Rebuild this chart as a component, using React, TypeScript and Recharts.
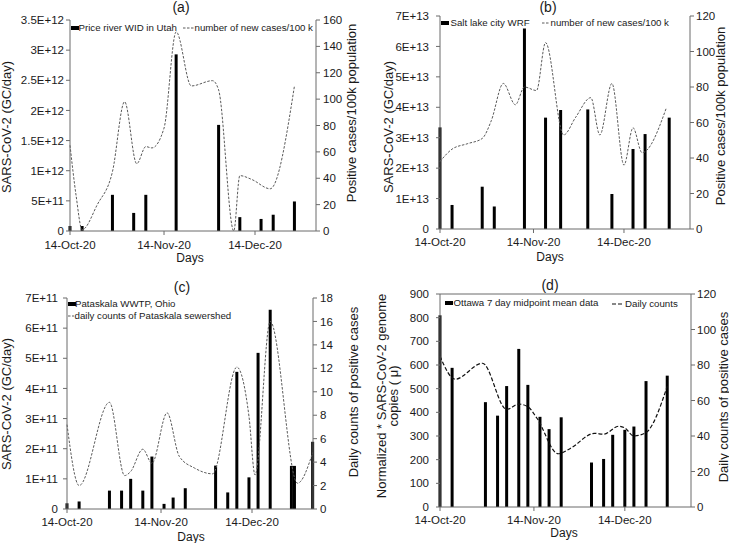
/**
 * Four-panel wastewater SARS-CoV-2 load vs. case counts (a)–(d)
 */

import React from "react";
import { ComposedChart, Bar, Line, XAxis, YAxis, Legend, ReferenceLine } from "recharts";

const FONT = '"Liberation Sans", Arial, Helvetica, sans-serif';
const AXIS = "#6b6b6b";
const INK = "#1a1a1a";

// x values are days after 14-Oct-20
const dateTicks = [0, 31, 61];
const dateLabels = ["14-Oct-20", "14-Nov-20", "14-Dec-20"];

// (a) Price river WID in Utah
const loadDaysA = [0, 4, 14, 21, 25, 35, 49, 56, 63, 67, 74];
const loadA = [8.3e10, 8.3e10, 6.0e11, 3.0e11, 6.0e11, 2.93e12, 1.76e12, 2.3e11, 2.0e11, 2.7e11, 4.9e11];
const caseDaysA = [0, 2, 4, 9, 14, 18, 22, 25, 27, 31, 35, 40, 47, 49, 54, 56, 60, 66, 74];
const casesA = [65, 27, 1, 20, 45, 98, 51, 64, 63, 78, 151, 110, 114, 107, 0, 42, 39, 32, 110];
const leftTicksA = [0, 5e11, 1e12, 1.5e12, 2e12, 2.5e12, 3e12, 3.5e12];
const rightTicksA = [0, 20, 40, 60, 80, 100, 120, 140, 160];

// (b) Salt lake city WRF
const loadDaysB = [0, 4, 14, 18, 28, 35, 40, 49, 57, 64, 68, 76];
const loadB = [3.34e13, 0.79e13, 1.39e13, 0.74e13, 6.59e13, 3.66e13, 3.91e13, 3.93e13, 1.15e13, 2.63e13, 3.12e13, 3.66e13];
const caseDaysB = [0, 4, 9, 14, 17, 21, 25, 28, 32, 35, 41, 45, 50, 53, 57, 61, 64, 67, 75];
const casesB = [38, 45, 48, 51, 61, 82, 70, 80, 78, 105, 53, 63, 74, 53, 82, 36, 57, 43, 68];
const leftTicksB = [0, 1e13, 2e13, 3e13, 4e13, 5e13, 6e13, 7e13];
const rightTicksB = [0, 20, 40, 60, 80, 100, 120];

// (c) Pataskala WWTP, Ohio
const loadDaysC = [0, 4, 14, 18, 21, 25, 28, 32, 35, 39, 49, 53, 56, 60, 63, 67, 74, 75, 81];
const loadC = [1.9e10, 2.5e10, 6.1e10, 6.1e10, 1.0e11, 6.1e10, 1.74e11, 1.7e10, 3.8e10, 6.9e10, 1.44e11, 5.5e10, 4.55e11, 1.05e11, 5.18e11, 6.61e11, 1.43e11, 1.43e11, 2.23e11];
const caseDaysC = [0, 4, 14, 19, 21, 25, 28, 33, 37, 42, 48, 56, 60, 62, 67, 76, 81];
const casesC = [7.2, 2.0, 9.1, 2.85, 3.2, 5.1, 3.9, 8.2, 4.5, 3.5, 3.0, 12.1, 7.9, 2.9, 16, 2.2, 4.8];
const leftTicksC = [0, 1e11, 2e11, 3e11, 4e11, 5e11, 6e11, 7e11];
const rightTicksC = [0, 2, 4, 6, 8, 10, 12, 14, 16, 18];

// (d) Ottawa 7 day midpoint mean
const loadDaysD = [0, 4, 15, 19, 22, 26, 29, 33, 36, 40, 50, 54, 57, 61, 64, 68, 75];
const loadD = [810, 588, 443, 386, 511, 668, 516, 381, 329, 379, 188, 203, 305, 326, 340, 532, 555];
const caseDaysD = [0, 5, 14, 22, 26, 29, 32, 39, 43, 51, 54, 59, 61, 64, 68, 75];
const casesD = [85, 72, 81, 55, 58, 56.5, 50, 30, 33, 41.5, 41, 45.5, 44.5, 40, 42, 68];
const leftTicksD = [0, 100, 200, 300, 400, 500, 600, 700, 800, 900];
const rightTicksD = [0, 20, 40, 60, 80, 100, 120];

type Row = { day: number; load?: number; cases?: number };

function buildRows(loadDays: number[], load: number[], caseDays: number[], cases: number[]): Row[] {
  const map = new Map<number, Row>();
  loadDays.forEach((d, i) => {
    const r = map.get(d) ?? { day: d };
    r.load = load[i];
    map.set(d, r);
  });
  caseDays.forEach((d, i) => {
    const r = map.get(d) ?? { day: d };
    r.cases = cases[i];
    map.set(d, r);
  });
  return [...map.values()].sort((a, b) => a.day - b.day);
}

const sci = (v: number) => (v === 0 ? "0" : v.toExponential().replace("e", "E"));
const plain = (v: number) => String(v);
const fmtDate = (v: number) => dateLabels[dateTicks.indexOf(v)] ?? "";

type LegendItem = { kind: "bar" | "line"; label: string; mx: number; tx: number; y: number };
type Dash = { stroke: string; width: number; dash: string };

type PanelProps = {
  box: { left: number; top: number; width: number; height: number };
  plot: { x0: number; y0: number; x1: number; y1: number };
  rows: Row[];
  pxPerDay: number;
  leftTicks: number[];
  rightTicks: number[];
  leftFmt: (v: number) => string;
  leftMargin: number;
  rightMargin: number;
  xMargin: number;
  line: Dash;
  legend: LegendItem[];
  topBorder?: boolean;
};

function Panel({ box, plot, rows, pxPerDay, leftTicks, rightTicks, leftFmt, leftMargin, rightMargin, xMargin, line, legend, topBorder }: PanelProps) {
  const tick = { fontSize: 11.5, fontFamily: FONT, fill: INK };
  const xMax = (plot.x1 - plot.x0) / pxPerDay;
  const renderLegend = () => (
    <div style={{ position: "relative", width: 0, height: 0 }}>
      {legend.map((it) => (
        <React.Fragment key={it.label}>
          {it.kind === "bar" ? (
            <div style={{ position: "absolute", left: it.mx - box.left, top: it.y - box.top - 2, width: 8, height: 4, background: "#000" }} />
          ) : (
            <svg style={{ position: "absolute", left: it.mx - box.left, top: it.y - box.top - 2 }} width={it.tx - it.mx - 1} height={4}>
              <line x1={0} y1={2} x2={it.tx - it.mx - 1} y2={2} stroke={line.stroke} strokeWidth={line.width} strokeDasharray={line.dash} />
            </svg>
          )}
          <div
            style={{
              position: "absolute",
              left: it.tx - box.left,
              top: it.y - box.top - 6,
              lineHeight: "12px",
              fontSize: 9.7,
              fontFamily: FONT,
              color: INK,
              whiteSpace: "nowrap",
            }}
          >
            {it.label}
          </div>
        </React.Fragment>
      ))}
    </div>
  );

  return (
    <div style={{ position: "absolute", left: box.left, top: box.top }}>
      <ComposedChart width={box.width} height={box.height} data={rows} margin={{ top: plot.y0 - box.top, right: 0, bottom: 0, left: 0 }}>
        <XAxis
          dataKey="day"
          type="number"
          domain={[0, xMax]}
          ticks={dateTicks}
          interval={0}
          tickFormatter={fmtDate}
          height={box.top + box.height - plot.y1}
          tick={tick}
          tickSize={4}
          tickMargin={xMargin}
          stroke={AXIS}
        />
        <YAxis
          yAxisId="l"
          width={plot.x0 - box.left}
          domain={[0, leftTicks[leftTicks.length - 1]]}
          ticks={leftTicks}
          interval={0}
          tickFormatter={leftFmt}
          tick={tick}
          tickSize={4}
          tickMargin={leftMargin}
          stroke={AXIS}
        />
        <YAxis
          yAxisId="r"
          orientation="right"
          width={box.left + box.width - plot.x1}
          domain={[0, rightTicks[rightTicks.length - 1]]}
          ticks={rightTicks}
          interval={0}
          tick={tick}
          tickSize={4}
          tickMargin={rightMargin}
          stroke={AXIS}
        />
        {topBorder && <ReferenceLine yAxisId="l" y={leftTicks[leftTicks.length - 1]} stroke={AXIS} />}
        <Bar yAxisId="l" dataKey="load" fill="#000" barSize={3} isAnimationActive={false} />
        <Line
          yAxisId="r"
          dataKey="cases"
          type="monotone"
          connectNulls
          dot={false}
          activeDot={false}
          stroke={line.stroke}
          strokeWidth={line.width}
          strokeDasharray={line.dash}
          isAnimationActive={false}
        />
        <Legend
          layout="horizontal"
          verticalAlign="middle"
          align="center"
          content={renderLegend}
          wrapperStyle={{ left: 0, top: 0, width: box.width, height: 1 }}
        />
      </ComposedChart>
    </div>
  );
}

const grayDash: Dash = { stroke: "#5a5a5a", width: 1, dash: "2.5 1.5" };
const blackDash: Dash = { stroke: "#111", width: 1.2, dash: "4 2" };

const titles = [
  { text: "(a)", x: 181, y: 7 },
  { text: "(b)", x: 548, y: 7 },
  { text: "(c)", x: 182, y: 287 },
  { text: "(d)", x: 550, y: 285 },
];
const dayLabels = [
  { x: 190, y: 258 },
  { x: 550, y: 257 },
  { x: 191, y: 537 },
  { x: 564, y: 533 },
];
const vTitles = [
  { text: "SARS-CoV-2 (GC/day)", x: 6, y: 127 },
  { text: "Positive cases/100k population", x: 351, y: 113 },
  { text: "SARS-CoV-2 (GC/day)", x: 388, y: 127 },
  { text: "Positive cases/100k population", x: 720, y: 116 },
  { text: "SARS-CoV-2 (GC/day)", x: 6, y: 404 },
  { text: "Daily counts of positive cases", x: 353, y: 392 },
  { text: "Normalized * SARS-CoV-2 genome", x: 381, y: 396 },
  { text: "copies ( μ)", x: 393.5, y: 396 },
  { text: "Daily counts of positive cases", x: 723, y: 397 },
];

export default function App() {
  return (
    <div style={{ position: "absolute", left: 0, top: 0, width: 729, height: 543, background: "#fff", overflow: "hidden" }}>
      <Panel
        box={{ left: 0, top: 0, width: 364, height: 265 }}
        plot={{ x0: 70, y0: 20, x1: 316, y1: 231 }}
        rows={buildRows(loadDaysA, loadA, caseDaysA, casesA)}
        pxPerDay={3.033}
        leftTicks={leftTicksA}
        rightTicks={rightTicksA}
        leftFmt={sci}
        leftMargin={2}
        rightMargin={3}
        xMargin={6}
        line={grayDash}
        legend={[
          { kind: "bar", label: "Price river WID in Utah", mx: 70.5, tx: 78.5, y: 28 },
          { kind: "line", label: "number of new cases/100 k", mx: 183, tx: 194.5, y: 28 },
        ]}
      />
      <Panel
        box={{ left: 364, top: 0, width: 365, height: 265 }}
        plot={{ x0: 440, y0: 16, x1: 690, y1: 229 }}
        rows={buildRows(loadDaysB, loadB, caseDaysB, casesB)}
        pxPerDay={3.016}
        leftTicks={leftTicksB}
        rightTicks={rightTicksB}
        leftFmt={sci}
        leftMargin={7}
        rightMargin={2}
        xMargin={5}
        line={grayDash}
        legend={[
          { kind: "bar", label: "Salt lake city WRF", mx: 441, tx: 450.5, y: 23 },
          { kind: "line", label: "number of new cases/100 k", mx: 542, tx: 550.5, y: 23 },
        ]}
      />
      <Panel
        box={{ left: 0, top: 265, width: 364, height: 278 }}
        plot={{ x0: 67, y0: 298, x1: 313, y1: 509 }}
        rows={buildRows(loadDaysC, loadC, caseDaysC, casesC)}
        pxPerDay={3.033}
        leftTicks={leftTicksC}
        rightTicks={rightTicksC}
        leftFmt={sci}
        leftMargin={5}
        rightMargin={3}
        xMargin={5}
        line={grayDash}
        legend={[
          { kind: "bar", label: "Pataskala WWTP, Ohio", mx: 68, tx: 75, y: 303.5 },
          { kind: "line", label: "daily counts of Pataskala sewershed", mx: 67.5, tx: 74.5, y: 316 },
        ]}
      />
      <Panel
        box={{ left: 364, top: 265, width: 365, height: 278 }}
        plot={{ x0: 440, y0: 294, x1: 691, y1: 507 }}
        rows={buildRows(loadDaysD, loadD, caseDaysD, casesD)}
        pxPerDay={3.03}
        leftTicks={leftTicksD}
        rightTicks={rightTicksD}
        leftFmt={plain}
        leftMargin={7}
        rightMargin={2}
        xMargin={5}
        line={blackDash}
        topBorder
        legend={[
          { kind: "bar", label: "Ottawa 7 day midpoint mean data", mx: 445, tx: 453.5, y: 303 },
          { kind: "line", label: "Daily counts", mx: 612, tx: 625, y: 304 },
        ]}
      />
      <svg width={729} height={543} style={{ position: "absolute", left: 0, top: 0, pointerEvents: "none" }} fontFamily={FONT} fill={INK}>
        {titles.map((t) => (
          <text key={t.text} x={t.x} y={t.y} fontSize={14} textAnchor="middle" dominantBaseline="central">
            {t.text}
          </text>
        ))}
        {dayLabels.map((d, i) => (
          <text key={i} x={d.x} y={d.y} fontSize={12} textAnchor="middle" dominantBaseline="central">
            Days
          </text>
        ))}
        {vTitles.map((t, i) => (
          <text key={i} transform={`translate(${t.x},${t.y}) rotate(-90)`} fontSize={13} textAnchor="middle" dominantBaseline="central">
            {t.text}
          </text>
        ))}
      </svg>
    </div>
  );
}
